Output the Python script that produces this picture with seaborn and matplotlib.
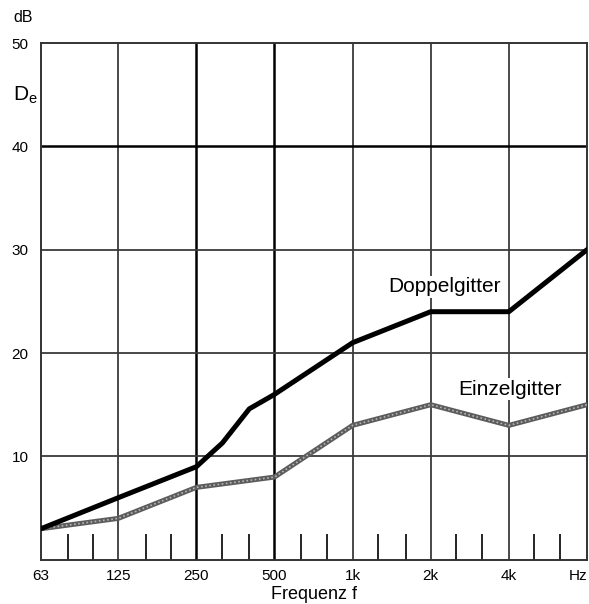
import numpy as np
import pandas as pd
import matplotlib
matplotlib.use("Agg")
import matplotlib.pyplot as plt
import seaborn as sns

# data
freq_doppel = [63, 125, 250, 315, 400, 500, 1000, 2000, 4000, 8000]
level_doppel = [3, 6, 9, 11.3, 14.6, 16, 21, 24, 24, 30]
freq_einzel = [63, 125, 250, 500, 1000, 2000, 4000, 8000]
level_einzel = [3, 4, 7, 8, 13, 15, 13, 15]

octave_ticks = [63, 125, 250, 500, 1000, 2000, 4000, 8000]
octave_labels = ["63", "125", "250", "500", "1k", "2k", "4k", "Hz"]
third_ticks = [80, 100, 160, 200, 315, 400, 630, 800, 1250, 1600,
               2500, 3150, 5000, 6300]
y_ticks = [10, 20, 30, 40, 50]

sns.set_style("white")
plt.rcParams["font.family"] = ["Liberation Sans", "DejaVu Sans"]
plt.rcParams["mathtext.fontset"] = "custom"
plt.rcParams["mathtext.rm"] = "Liberation Sans"
plt.rcParams["text.color"] = "black"
plt.rcParams["xtick.color"] = "black"
plt.rcParams["ytick.color"] = "black"
plt.rcParams["axes.labelcolor"] = "black"

fig = plt.figure(figsize=(5.89, 6.04), dpi=100)
ax = fig.add_axes([0.0696, 0.0733, 0.9270, 0.8555])

ax.set_xscale("log")
ax.set_xlim(63, 8000)
ax.set_ylim(0, 50)

# grid
for f in octave_ticks[1:-1]:
    heavy = f in (250, 500)
    ax.axvline(f, color="black" if heavy else "#3a3a3a",
               lw=1.8 if heavy else 1.3, zorder=1)
for y in y_ticks[:-1]:
    heavy = y == 40
    ax.axhline(y, color="black" if heavy else "#3a3a3a",
               lw=1.8 if heavy else 1.3, zorder=1)
ax.vlines(third_ticks, 0, 2.5, color="black", lw=1.2, zorder=1)

for s in ax.spines.values():
    s.set_color("#333333")
    s.set_linewidth(1.4)

df_d = pd.DataFrame({"f": freq_doppel, "D": level_doppel})
df_e = pd.DataFrame({"f": freq_einzel, "D": level_einzel})

sns.lineplot(data=df_e, x="f", y="D", color="#5c5c5c", lw=3.6, ax=ax,
             zorder=3, sort=False)
ax.plot(df_e["f"], df_e["D"], color="#b5b5b5", lw=1.2, ls=(0, (1, 1.5)),
        zorder=4)
sns.lineplot(data=df_d, x="f", y="D", color="black", lw=3.6, ax=ax,
             zorder=5, sort=False)

ax.set_xticks(octave_ticks)
ax.set_xticklabels(octave_labels, fontsize=11)
ax.get_xticklabels()[-1].set_horizontalalignment("right")
ax.xaxis.set_minor_locator(matplotlib.ticker.NullLocator())
ax.set_yticks(y_ticks)
ax.set_yticklabels([str(v) for v in y_ticks], fontsize=11)
ax.tick_params(axis="both", length=0)
ax.tick_params(axis="x", pad=7)
ax.tick_params(axis="y", pad=9)
ax.set_xlabel("Frequenz f", fontsize=13, labelpad=2)
ax.set_ylabel("")

ax.text(2250, 26.4, "Doppelgitter", fontsize=15, ha="center", va="center",
        bbox=dict(facecolor="white", edgecolor="none", pad=1), zorder=6)
ax.text(4050, 16.5, "Einzelgitter", fontsize=15, ha="center", va="center",
        bbox=dict(facecolor="white", edgecolor="none", pad=1), zorder=6)

fig.text(23 / 589, 1 - 17 / 604, "dB", fontsize=11.5, ha="center", va="center")
fig.text(25 / 589, 1 - 95 / 604, r"$\mathregular{D_e}$", fontsize=15,
         ha="center", va="center")

fig.savefig("out.png", dpi=100, facecolor="white")
